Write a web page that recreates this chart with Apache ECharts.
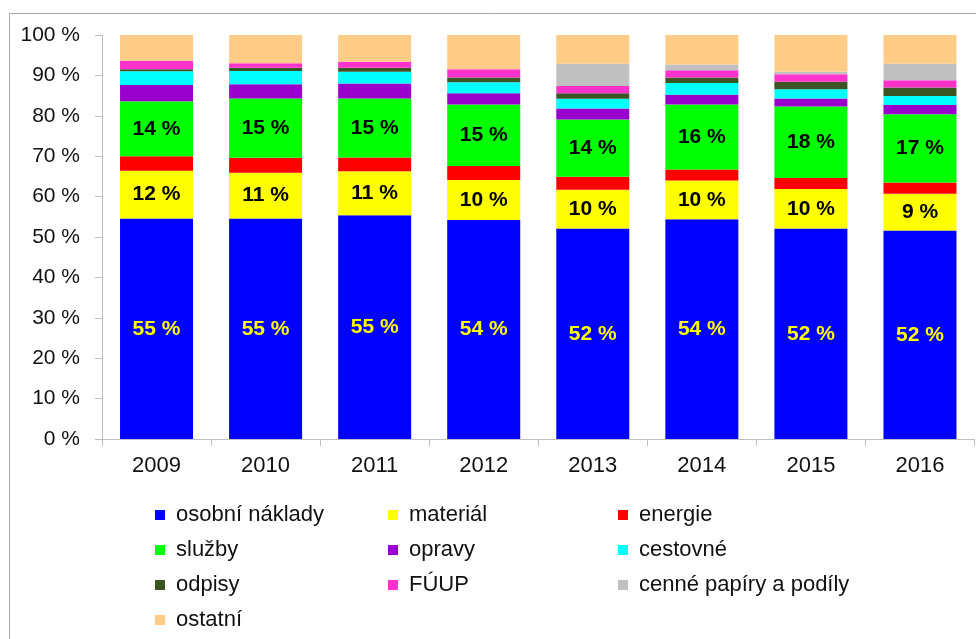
<!DOCTYPE html>
<html>
<head>
<meta charset="utf-8">
<script src="https://cdn.jsdelivr.net/npm/echarts@6/dist/echarts.min.js"></script>
<style>
  html, body { margin: 0; padding: 0; background: #fff; }
  #chart { width: 976px; height: 639px; }
</style>
</head>
<body>
<div id="chart"></div>
<script>
const years = ['2009', '2010', '2011', '2012', '2013', '2014', '2015', '2016']
const yTicks = [0, 10, 20, 30, 40, 50, 60, 70, 80, 90, 100]

// podíl jednotlivých nákladů v %
const osobniNaklady = [54.6, 54.6, 55.4, 54.2, 52.1, 54.4, 52.1, 51.6]
const material = [11.8, 11.3, 10.9, 9.9, 9.6, 9.6, 9.8, 9.1]
const energie = [3.6, 3.7, 3.4, 3.5, 3.2, 2.7, 2.7, 2.8]
const sluzby = [13.6, 14.7, 14.6, 15.2, 14.2, 16.1, 17.7, 16.9]
const opravy = [4.0, 3.5, 3.7, 2.8, 2.7, 2.4, 2.0, 2.3]
const cestovne = [3.4, 3.3, 2.9, 2.7, 2.4, 2.9, 2.3, 2.2]
const odpisy = [0.5, 0.8, 1.0, 1.2, 1.4, 1.4, 1.8, 2.1]
const fuup = [2.1, 1.1, 1.5, 2.0, 1.8, 1.8, 1.9, 1.8]
const cennePapiry = [0, 0, 0, 0, 5.5, 1.4, 0.6, 4.1]
const ostatni = [6.4, 7.0, 6.6, 8.5, 7.1, 7.3, 9.1, 7.1]

const font = "'Liberation Sans', Arial, sans-serif"

const makeLabel = (color) => ({
  show: true,
  position: 'inside',
  color: color,
  fontFamily: font,
  fontWeight: 'bold',
  fontSize: 21,
  formatter: (p) => Math.round(p.value) + ' %'
})

const seriesDefs = [
  { name: 'osobní náklady', data: osobniNaklady, color: '#0000ff', label: makeLabel('#ffff00') },
  { name: 'materiál', data: material, color: '#ffff00', label: makeLabel('#000000') },
  { name: 'energie', data: energie, color: '#ff0000' },
  { name: 'služby', data: sluzby, color: '#00ff00', label: makeLabel('#000000') },
  { name: 'opravy', data: opravy, color: '#9900cc' },
  { name: 'cestovné', data: cestovne, color: '#00ffff' },
  { name: 'odpisy', data: odpisy, color: '#3a5424' },
  { name: 'FÚUP', data: fuup, color: '#ff33cc' },
  { name: 'cenné papíry a podíly', data: cennePapiry, color: '#c0c0c0' },
  { name: 'ostatní', data: ostatni, color: '#ffcc88' }
]

const legendBase = {
  orient: 'vertical',
  top: 504,
  padding: 0,
  itemWidth: 10,
  itemHeight: 10,
  itemGap: 13,
  icon: 'rect',
  selectedMode: false,
  textStyle: {
    fontFamily: font,
    fontSize: 22,
    lineHeight: 22,
    color: '#111',
    padding: [0, 0, 0, 6]
  }
}

const myChart = echarts.init(document.getElementById('chart'))
const option = {
  backgroundColor: '#fff',
  animation: false,
  graphic: [
    {
      type: 'polyline',
      shape: { points: [[9.5, 639], [9.5, 13.5], [976, 13.5]] },
      style: { stroke: '#a6a6a6', lineWidth: 1, fill: null }
    }
  ],
  legend: [
    Object.assign({}, legendBase, { left: 155, data: ['osobní náklady', 'služby', 'odpisy', 'ostatní'] }),
    Object.assign({}, legendBase, { left: 388, data: ['materiál', 'opravy', 'FÚUP'] }),
    Object.assign({}, legendBase, { left: 618, data: ['energie', 'cestovné', 'cenné papíry a podíly'] })
  ],
  grid: {
    left: 102,
    right: 1.5,
    top: 35,
    bottom: 200
  },
  xAxis: {
    type: 'category',
    data: years,
    axisLine: { lineStyle: { color: '#bfbfbf' } },
    axisTick: { show: true, length: 7, lineStyle: { color: '#bfbfbf' } },
    axisLabel: {
      fontFamily: font,
      fontSize: 22,
      color: '#111',
      margin: 16
    }
  },
  yAxis: {
    type: 'value',
    min: yTicks[0],
    max: yTicks[yTicks.length - 1],
    interval: 10,
    splitLine: { show: false },
    axisLine: { show: true, lineStyle: { color: '#bfbfbf' } },
    axisTick: { show: true, length: 7, lineStyle: { color: '#bfbfbf' } },
    axisLabel: {
      fontFamily: font,
      fontSize: 21,
      color: '#111',
      margin: 22,
      formatter: (v) => v + ' %'
    }
  },
  series: seriesDefs.map((s) => ({
    name: s.name,
    type: 'bar',
    stack: 'total',
    barWidth: 73,
    data: s.data,
    itemStyle: { color: s.color },
    label: s.label || { show: false }
  }))
}

option && myChart.setOption(option)
</script>
</body>
</html>
